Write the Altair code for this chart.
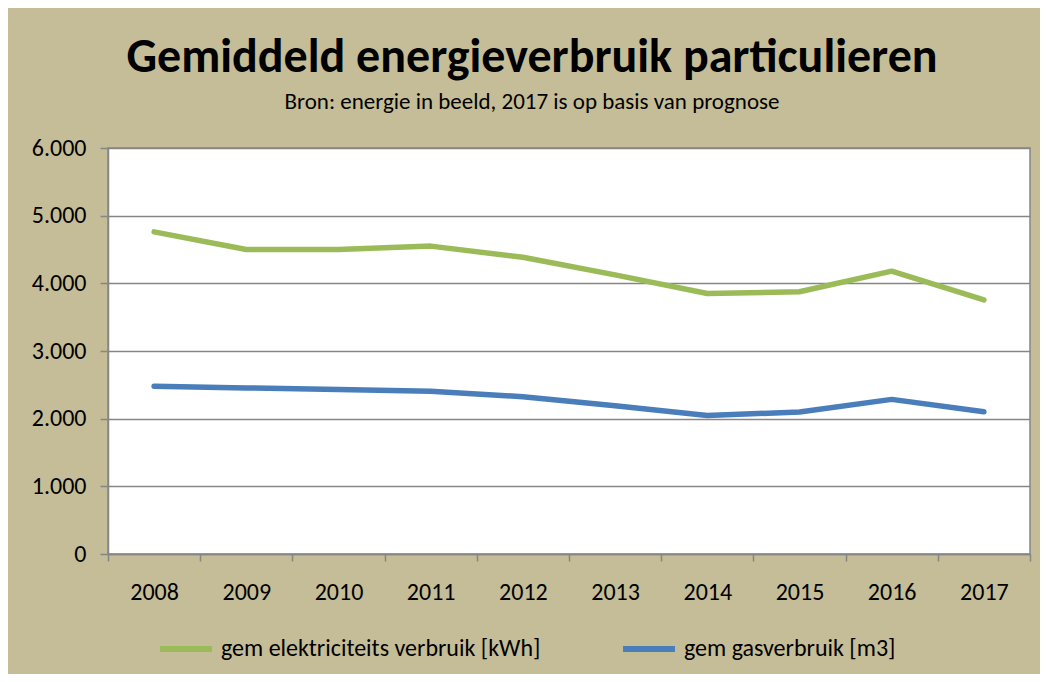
import altair as alt
import pandas as pd

years = [2008, 2009, 2010, 2011, 2012, 2013, 2014, 2015, 2016, 2017]
elec = [4760, 4500, 4500, 4550, 4385, 4125, 3850, 3875, 4180, 3755]
gas = [2480, 2455, 2430, 2405, 2325, 2190, 2048, 2098, 2285, 2102]
series_names = ["gem elektriciteits verbruik [kWh]", "gem gasverbruik [m3]"]
series_colors = ["#9BBB59", "#4A7EBB"]
tick_bounds = [2007.5 + i for i in range(11)]
y_ticks = [0, 1000, 2000, 3000, 4000, 5000, 6000]

rows = []
for y, v in zip(years, elec):
    rows.append({"jaar": y, "waarde": v, "reeks": series_names[0]})
for y, v in zip(years, gas):
    rows.append({"jaar": y, "waarde": v, "reeks": series_names[1]})
df = pd.DataFrame(rows)

FONT = "Carlito, Lato"
GRAY = "#868686"

xscale = alt.Scale(domain=[2007.5, 2017.5], nice=False, zero=False)
yscale = alt.Scale(domain=[0, 6000], nice=False)
cscale = alt.Scale(domain=series_names, range=series_colors)

yaxis = alt.Axis(values=y_ticks, grid=True, gridColor=GRAY, gridWidth=1.5,
                 domainColor=GRAY, domainWidth=1.5, tickColor=GRAY, tickWidth=1.5,
                 tickSize=8, labelPadding=14, labelFontSize=24, labelFont=FONT,
                 labelColor="black",
                 labelExpr="replace(format(datum.value, ',d'), ',', '.')")

ticks_layer = alt.Chart(df).mark_line(opacity=0).encode(
    x=alt.X("jaar:Q", scale=xscale, title=None,
            axis=alt.Axis(orient="bottom", values=tick_bounds, labels=False, grid=False,
                          domainColor=GRAY, domainWidth=1.5, tickColor=GRAY, tickWidth=1.5,
                          tickSize=7)),
    y=alt.Y("waarde:Q", scale=yscale, title=None, axis=yaxis),
    detail="reeks:N",
)

lines_layer = alt.Chart(df).mark_line(strokeWidth=5.5, strokeCap="round", strokeJoin="round").encode(
    x=alt.X("jaar:Q", scale=xscale, title=None,
            axis=alt.Axis(orient="bottom", values=years, format="d", ticks=False, domain=False,
                          grid=False, labelPadding=26, labelFontSize=24, labelFont=FONT,
                          labelColor="black")),
    y=alt.Y("waarde:Q", scale=yscale, title=None, axis=yaxis),
    color=alt.Color("reeks:N", scale=cscale, sort=series_names,
                    legend=alt.Legend(title=None, orient="none", legendX=49, legendY=472,
                                      direction="horizontal", columns=2, symbolType="stroke",
                                      symbolSize=2700, symbolStrokeWidth=6, labelFontSize=24,
                                      labelFont=FONT, labelColor="black", columnPadding=70,
                                      labelOffset=6, labelLimit=500)),
)

chart = alt.layer(ticks_layer, lines_layer).resolve_axis(x="independent").properties(
    width=922, height=406,
    padding={"left": 100, "top": 140, "right": 10, "bottom": 120},
    autosize=alt.AutoSizeParams(type="none"),
    background="#C4BD97",
    title=alt.TitleParams(
        text="Gemiddeld energieverbruik particulieren",
        subtitle="Bron: energie in beeld, 2017 is op basis van prognose",
        anchor="middle", fontSize=48, font=FONT, fontWeight="bold", color="black",
        subtitleFontSize=23, subtitleFont=FONT, subtitleColor="black",
        subtitlePadding=9, offset=22, dx=-37),
).configure_view(fill="white", stroke=GRAY, strokeWidth=1.5)

chart.save("out.html", embed_options={"renderer": "svg", "actions": False})
